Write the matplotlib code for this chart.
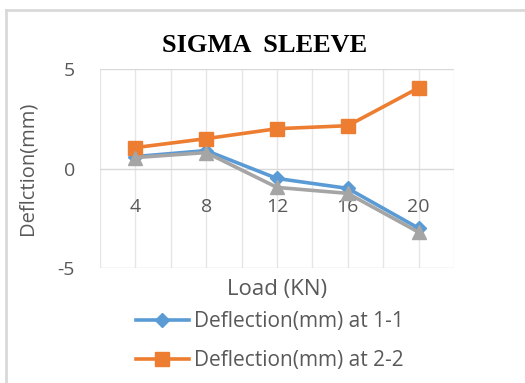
import numpy as np
import matplotlib.pyplot as plt
from matplotlib.lines import Line2D

# loads (KN) and deflections (mm)
loads = ["4", "8", "12", "16", "20"]
defl_1_1 = [0.6, 0.9, -0.5, -1.0, -3.0]
defl_2_2 = [1.05, 1.5, 2.0, 2.15, 4.05]
defl_3_3 = [0.55, 0.8, -0.95, -1.25, -3.2]

blue = "#5B9BD5"
orange = "#ED7D31"
gray = "#A5A5A5"
txt = "#595959"

plt.rcParams['font.family'] = ['Open Sans', 'DejaVu Sans']
plt.rcParams['axes.unicode_minus'] = False

fig = plt.figure(figsize=(5.25, 3.83), dpi=100)
ax = fig.add_axes([100/525, 1-268/383, 354/525, 199/383])

x = np.arange(len(loads))
ax.plot(x, defl_1_1, color=blue, lw=2.6, marker="D", ms=7, zorder=3)
ax.plot(x, defl_2_2, color=orange, lw=2.6, marker="s", ms=10.5, zorder=3)
ax.plot(x, defl_3_3, color=gray, lw=2.6, marker="^", ms=10.5, zorder=4)

ax.set_xlim(-0.5, len(loads) - 0.5)
ax.set_ylim(-5, 5)
ax.set_yticks([-5, 0, 5])
ax.set_xticks(x)
ax.set_xticklabels(loads)

# vertical grid at category centres and boundaries
for g in np.arange(-0.5, len(loads), 0.5):
    ax.axvline(g, color="#E6E6E6", lw=1, zorder=1)
for g in [-5, 0, 5]:
    ax.axhline(g, color="#D9D9D9", lw=1, zorder=1)

for s in ax.spines.values():
    s.set_visible(False)
ax.spines['bottom'].set_position(('data', 0))
ax.tick_params(axis='x', length=0, pad=21, labelsize=14, labelcolor=txt)
ax.tick_params(axis='y', length=0, pad=18, labelsize=14, labelcolor=txt)

fig.text(27/525, 1-168/383, "Deflction(mm)", rotation=90, ha="center", va="center",
         fontsize=14.5, color=txt)
fig.text(277/525, 1-290/383, "Load (KN)", ha="center", va="center", fontsize=16, color=txt)
fig.text(265/525, 1-46/383, "SIGMA  SLEEVE", ha="center", va="center", fontsize=19,
         fontweight="bold", family="Liberation Serif", color="black")

handles = [Line2D([], [], color=blue, lw=2.6, marker="D", ms=7),
           Line2D([], [], color=orange, lw=2.6, marker="s", ms=10)]
fig.legend(handles, ["Deflection(mm) at 1-1", "Deflection(mm) at 2-2"],
           loc="center", bbox_to_anchor=(270/525, 1-341/383), frameon=False,
           fontsize=15, labelcolor=txt, handlelength=2.5, handletextpad=0.25,
           labelspacing=0.85, borderpad=0)

# outer chart border (only left and top visible in the crop)
fig.add_artist(Line2D([6/525, 6/525], [0, 1-10/383], color="#D9D9D9", lw=2,
                      transform=fig.transFigure))
fig.add_artist(Line2D([6/525, 1], [1-10/383, 1-10/383], color="#D9D9D9", lw=2,
                      transform=fig.transFigure))

fig.savefig("out.png", dpi=100)
